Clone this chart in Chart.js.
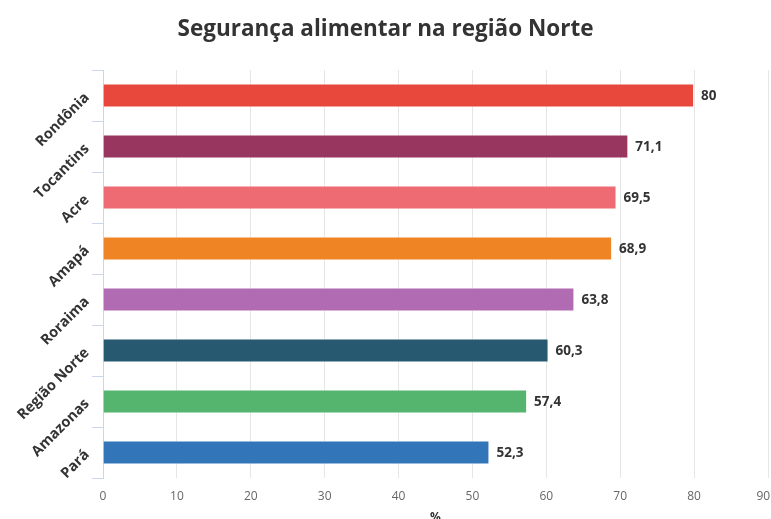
<!DOCTYPE html>
<html>
<head>
<meta charset="utf-8">
<script src="https://cdn.jsdelivr.net/npm/chart.js@4/dist/chart.umd.min.js"></script>
<style>
  body { margin: 0; background: #fff; }
  #wrap { width: 771px; height: 519px; }
</style>
</head>
<body>
<div id="wrap"><canvas id="myChart" width="771" height="519"></canvas></div>
<script>
var states = ['Rondônia', 'Tocantins', 'Acre', 'Amapá', 'Roraima', 'Região Norte', 'Amazonas', 'Pará']
var values = [80, 71.1, 69.5, 68.9, 63.8, 60.3, 57.4, 52.3]
var colors = ['#e8473c', '#98365f', '#ef6b73', '#ef8424', '#b06bb2', '#275a71', '#55b46e', '#3276b9']
var xTicks = [0, 10, 20, 30, 40, 50, 60, 70, 80, 90]

// values written after the bars
var barLabels = {
    id: 'barLabels',
    afterDatasetsDraw: function(chart) {
        var ctx = chart.ctx
        var meta = chart.getDatasetMeta(0)
        ctx.save()
        ctx.font = 'bold 13.5px "Open Sans"'
        ctx.fillStyle = '#333333'
        ctx.textAlign = 'left'
        ctx.textBaseline = 'middle'
        meta.data.forEach(function(bar, i) {
            ctx.fillText(String(values[i]).replace('.', ','), bar.x + 7, bar.y + 1)
        })
        ctx.restore()
    }
}

var chart = new Chart(document.getElementById('myChart').getContext('2d'), {
    type: 'bar',
    data: {
        labels: states,
        datasets: [{
            data: values,
            backgroundColor: colors,
            borderColor: 'rgba(255,255,255,0.4)',
            borderWidth: 1,
            categoryPercentage: 1,
            barPercentage: 0.47
        }]
    },
    options: {
        indexAxis: 'y',
        responsive: false,
        animation: false,
        layout: { padding: 0 },
        plugins: {
            legend: { display: false },
            tooltip: { enabled: false },
            title: {
                display: true,
                text: 'Segurança alimentar na região Norte',
                color: '#333333',
                font: { family: 'Open Sans', size: 22.5, weight: 'bold' },
                padding: { top: 16, bottom: 27 }
            }
        },
        scales: {
            x: {
                min: 0,
                max: 90,
                afterBuildTicks: function(s) {
                    s.ticks = xTicks.map(function(v) { return { value: v } })
                },
                afterFit: function(s) {
                    s.height = 41
                    s.paddingRight = 3
                },
                grid: { color: '#e6e6e6', drawTicks: false },
                border: { display: false },
                ticks: {
                    color: '#666666',
                    padding: 11,
                    font: { family: 'Open Sans', size: 12 },
                    // last label kept inside the canvas, like the original
                    callback: function(v) {
                        return v === 90 ? v + '\u00a0\u00a0\u00a0' : v
                    }
                },
                title: {
                    display: true,
                    text: '%',
                    color: '#333333',
                    font: { family: 'Open Sans', size: 12, weight: 'bold' },
                    padding: { top: 0, bottom: -6 }
                }
            },
            y: {
                afterFit: function(s) { s.width = 103 },
                grid: {
                    offset: true,
                    drawOnChartArea: false,
                    drawTicks: true,
                    tickLength: 11,
                    color: '#ccd6eb'
                },
                border: { display: true, color: '#ccd6eb' },
                ticks: {
                    minRotation: 45,
                    maxRotation: 45,
                    padding: 5,
                    color: '#333333',
                    font: { family: 'Open Sans', size: 14.5, weight: 'bold' }
                }
            }
        }
    },
    plugins: [barLabels]
})
</script>
</body>
</html>
